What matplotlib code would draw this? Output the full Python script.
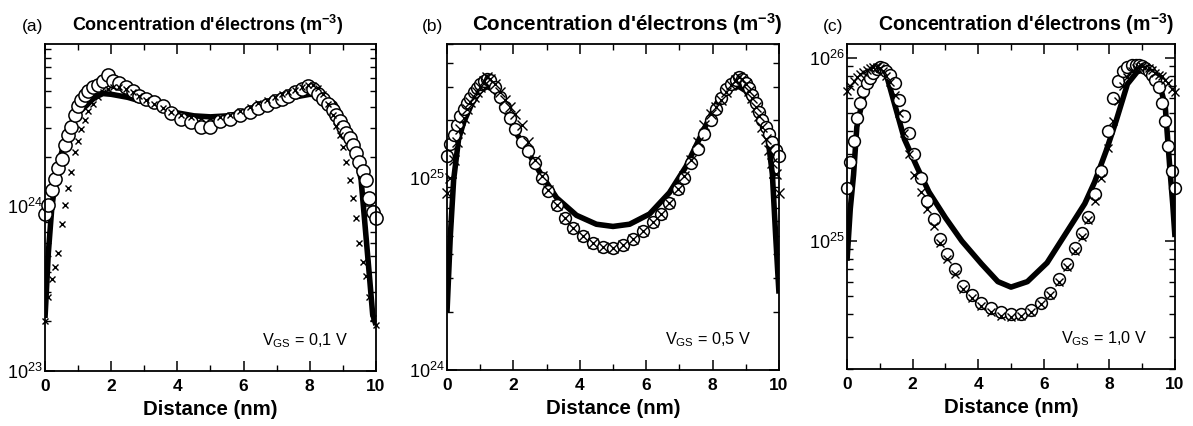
import matplotlib
matplotlib.use("Agg")
import matplotlib.pyplot as plt
import numpy as np
from matplotlib import font_manager
from matplotlib.ticker import FixedLocator, LogLocator, NullFormatter

# ---------------- data ----------------
# common marker abscissae (nm)
x_pts = [0.0, 0.1, 0.2, 0.3, 0.4, 0.5, 0.6, 0.7, 0.8, 0.9, 1.0, 1.1, 1.2, 1.3,
         1.45, 1.6, 1.75, 1.9, 2.05, 2.25, 2.45, 2.65, 2.85, 3.05, 3.3, 3.55,
         3.8, 4.1, 4.4, 4.7, 5.0, 5.3, 5.6, 5.9, 6.2, 6.45, 6.7, 6.95, 7.15,
         7.35, 7.55, 7.75, 7.95, 8.1, 8.25, 8.4, 8.55, 8.7, 8.8, 8.9, 9.0, 9.1,
         9.2, 9.3, 9.4, 9.5, 9.6, 9.7, 9.8, 9.9, 10.0]

# Panel (a): VGS = 0,1 V  (unit 1e24 m^-3)
a_unit = 1e24
a_circ = [0.90, 1.02, 1.25, 1.46, 1.70, 1.95, 2.35, 2.70, 3.05, 3.60, 4.10, 4.45, 4.75, 5.00,
          5.30, 5.50, 5.80, 6.30, 5.80, 5.60, 5.30, 5.00, 4.70, 4.50, 4.30, 4.05,
          3.70, 3.40, 3.25, 3.05, 3.05, 3.30, 3.40, 3.60, 3.75, 3.95, 4.15, 4.35, 4.50,
          4.70, 4.95, 5.15, 5.40, 5.20, 4.85, 4.50, 4.20, 3.85, 3.60, 3.30, 3.05, 2.80,
          2.60, 2.36, 2.10, 1.85, 1.65, 1.45, 1.12, 0.92, 0.85]
a_cross = [0.20, 0.28, 0.36, 0.43, 0.52, 0.78, 1.02, 1.30, 1.62, 2.15, 2.50, 2.95, 3.35, 3.80,
           4.20, 4.60, 4.95, 5.20, 5.30, 5.30, 5.15, 4.95, 4.70, 4.45, 4.20, 3.95,
           3.75, 3.60, 3.50, 3.45, 3.45, 3.50, 3.60, 3.80, 4.00, 4.25, 4.45, 4.65, 4.80,
           4.95, 5.10, 5.30, 5.50, 5.50, 5.25, 4.80, 4.20, 3.60, 3.10, 2.70, 2.30, 1.85,
           1.45, 1.12, 0.85, 0.60, 0.46, 0.38, 0.28, 0.21, 0.19]
a_line_x = [0.0, 0.1, 0.2, 0.3, 0.45, 0.6, 0.8, 1.0, 1.25, 1.5, 1.75, 2.0, 2.5, 3.0, 3.5,
            4.0, 4.5, 5.0, 5.5, 6.0, 6.5, 7.0, 7.5, 8.0, 8.25, 8.5, 8.75, 9.0, 9.2,
            9.4, 9.55, 9.7, 9.8, 9.9, 10.0]
a_line = [0.21, 0.52, 0.95, 1.40, 1.95, 2.50, 3.20, 3.70, 4.10, 4.60, 4.85, 4.80, 4.60, 4.30,
          4.00, 3.70, 3.55, 3.50, 3.55, 3.70, 4.00, 4.30, 4.60, 4.80, 4.75, 4.50, 4.20,
          3.30, 2.60, 2.10, 1.45, 0.65, 0.38, 0.22, 0.19]

# Panel (b): VGS = 0,5 V  (unit 1e25 m^-3)
b_unit = 1e25
b_circ = [1.30, 1.50, 1.68, 1.90, 2.10, 2.30, 2.45, 2.62, 2.80, 2.95, 3.10, 3.20, 3.28, 3.25,
          3.00, 2.65, 2.35, 2.05, 1.80, 1.55, 1.38, 1.20, 1.00, 0.86, 0.72, 0.62,
          0.55, 0.50, 0.46, 0.44, 0.43, 0.45, 0.48, 0.53, 0.59, 0.65, 0.74, 0.88, 1.00,
          1.20, 1.42, 1.70, 2.00, 2.30, 2.60, 2.90, 3.10, 3.25, 3.35, 3.30, 3.15, 2.95,
          2.70, 2.45, 2.20, 2.00, 1.85, 1.70, 1.55, 1.40, 1.30]
b_cross = [0.84, 1.00, 1.25, 1.55, 1.80, 2.05, 2.30, 2.50, 2.65, 2.80, 3.00, 3.20, 3.35, 3.30,
           3.10, 2.80, 2.55, 2.35, 2.15, 1.90, 1.55, 1.25, 1.02, 0.87, 0.72, 0.62,
           0.55, 0.50, 0.46, 0.44, 0.43, 0.45, 0.48, 0.53, 0.59, 0.65, 0.74, 0.88, 1.02,
           1.25, 1.55, 1.90, 2.15, 2.35, 2.55, 2.80, 3.05, 3.25, 3.35, 3.30, 3.10, 2.85,
           2.60, 2.35, 2.10, 1.85, 1.60, 1.40, 1.20, 1.05, 0.84]
b_line_x = [0.0, 0.1, 0.2, 0.35, 0.5, 0.75, 1.0, 1.2, 1.4, 1.6, 1.85, 2.1, 2.4, 2.8, 3.3,
            3.9, 4.5, 5.0, 5.5, 6.1, 6.7, 7.2, 7.6, 7.9, 8.15, 8.4, 8.6, 8.8, 9.0, 9.25,
            9.5, 9.65, 9.8, 9.9, 10.0]
b_line = [0.20, 0.50, 0.98, 1.60, 1.95, 2.45, 2.85, 3.00, 2.90, 2.60, 2.10, 1.70, 1.40, 1.07,
          0.79, 0.64, 0.575, 0.56, 0.575, 0.65, 0.84, 1.15, 1.60, 2.05, 2.50, 2.80, 2.95,
          3.00, 2.85, 2.40, 2.05, 1.70, 1.05, 0.50, 0.25]

# Panel (c): VGS = 1,0 V  (unit 1e25 m^-3)
c_unit = 1e25
c_circ = [1.95, 2.70, 3.50, 4.70, 5.70, 6.60, 7.30, 7.80, 8.30, 8.70, 8.90, 8.80, 8.50, 8.10,
          7.30, 5.90, 4.80, 3.90, 3.00, 2.20, 1.65, 1.32, 1.03, 0.85, 0.70, 0.57,
          0.51, 0.46, 0.43, 0.41, 0.40, 0.40, 0.42, 0.46, 0.52, 0.62, 0.75, 0.92, 1.10,
          1.35, 1.80, 2.40, 4.00, 6.00, 7.50, 8.50, 8.95, 9.10, 9.15, 9.10, 9.00, 8.80,
          8.50, 8.10, 7.60, 6.90, 5.70, 4.50, 3.30, 2.40, 1.95]
c_cross = [6.60, 7.00, 7.50, 7.90, 8.20, 8.40, 8.60, 8.80, 8.90, 8.90, 8.80, 8.50, 8.00, 7.40,
           6.30, 5.00, 3.90, 3.00, 2.30, 1.85, 1.50, 1.20, 0.97, 0.80, 0.66, 0.55,
           0.49, 0.44, 0.41, 0.39, 0.385, 0.39, 0.41, 0.45, 0.51, 0.60, 0.72, 0.88, 1.05,
           1.30, 1.65, 2.20, 3.20, 4.50, 5.80, 7.00, 7.90, 8.50, 8.80, 8.90, 9.00, 8.90,
           8.80, 8.60, 8.30, 8.10, 8.00, 7.60, 7.30, 6.80, 6.50]
c_line_x = [0.0, 0.1, 0.2, 0.3, 0.45, 0.6, 0.8, 1.0, 1.2, 1.45, 1.75, 2.15, 2.5, 3.0, 3.5,
            4.1, 4.6, 5.0, 5.5, 6.1, 6.7, 7.25, 7.55, 7.9, 8.2, 8.55, 8.85, 9.05, 9.3,
            9.5, 9.7, 9.85, 9.93, 10.0]
c_line = [0.78, 1.50, 2.30, 4.20, 5.60, 7.00, 8.30, 8.60, 8.10, 5.60, 3.60, 2.50, 1.85, 1.34,
          1.00, 0.75, 0.60, 0.56, 0.60, 0.76, 1.12, 1.60, 2.10, 3.10, 4.50, 7.20, 8.40,
          8.60, 8.20, 7.50, 5.50, 2.40, 1.60, 1.05]

x_ticks = [0, 2, 4, 6, 8, 10]
x_minor = [1, 3, 5, 7, 9]
panel_tags = ["(a)", "(b)", "(c)"]
vgs_labels = [r"V$_{\mathregular{GS}}$ = 0,1 V", r"V$_{\mathregular{GS}}$ = 0,5 V",
              r"V$_{\mathregular{GS}}$ = 1,0 V"]
title_text = r"Concentration d'électrons (m$^{\mathregular{-3}}$)"
xlabel_text = "Distance (nm)"
y_limits = [(1e23, 9.7e24), (1e24, 5.0e25), (2e24, 1.19e26)]
y_decades = [[1e23, 1e24], [1e24, 1e25], [1e25, 1e26]]
y_decade_labels = [[r"$\mathregular{10^{23}}$", r"$\mathregular{10^{24}}$"],
                   [r"$\mathregular{10^{24}}$", r"$\mathregular{10^{25}}$"],
                   [r"$\mathregular{10^{25}}$", r"$\mathregular{10^{26}}$"]]

# ---------------- style ----------------
avail = {f.name for f in font_manager.fontManager.ttflist}
SANS = "Liberation Sans" if "Liberation Sans" in avail else "DejaVu Sans"

plt.rcParams["font.family"] = [SANS, "DejaVu Sans"]
plt.rcParams["mathtext.fontset"] = "custom"
plt.rcParams["mathtext.rm"] = SANS
plt.rcParams["mathtext.it"] = SANS + ":italic"
plt.rcParams["mathtext.bf"] = SANS + ":bold"

W, H = 1193, 426
fig = plt.figure(figsize=(W / 100, H / 100), dpi=100)

# axes boxes in pixels: left, top, right, bottom
boxes = [(45, 44, 376, 371), (447, 44, 779, 370), (847, 44, 1175, 369)]
tag_x = [22, 422, 823]
title_x = [72, 472, 878]
title_size = [13.0, 14.9, 14.1]
circle_ms = [9.5, 8.5, 8.5]
cross_ms = [5.0, 7.0, 5.5]

data = [
    (a_unit, a_circ, a_cross, a_line_x, a_line),
    (b_unit, b_circ, b_cross, b_line_x, b_line),
    (c_unit, c_circ, c_cross, c_line_x, c_line),
]

for i, (l, t, r, b) in enumerate(boxes):
    ax = fig.add_axes([l / W, (H - b) / H, (r - l) / W, (b - t) / H])
    unit, circ, cross, lx, ly = data[i]
    ax.plot(lx, np.array(ly) * unit, color="black", lw=4.0, solid_capstyle="butt",
            solid_joinstyle="round", zorder=2)
    ax.plot(x_pts, np.array(circ) * unit, linestyle="none", marker="o",
            ms=circle_ms[i], mfc="white", mec="black", mew=1.1, zorder=3,
            clip_on=False)
    ax.plot(x_pts, np.array(cross) * unit, linestyle="none", marker="x",
            ms=cross_ms[i], mec="black", mew=1.0, zorder=4, clip_on=False)

    ax.set_yscale("log")
    ax.set_xlim(0, 10)
    ax.set_ylim(*y_limits[i])
    ax.xaxis.set_major_locator(FixedLocator(x_ticks))
    ax.xaxis.set_minor_locator(FixedLocator(x_minor))
    ax.set_xticklabels([str(v) for v in x_ticks], fontweight="bold", fontsize=12.5)
    ax.yaxis.set_major_locator(FixedLocator(y_decades[i]))
    ax.yaxis.set_minor_locator(LogLocator(base=10, subs=np.arange(2, 10), numticks=30))
    ax.yaxis.set_minor_formatter(NullFormatter())
    ax.set_yticklabels(y_decade_labels[i], fontsize=13)

    ax.tick_params(which="both", direction="in", top=True, right=True, colors="black")
    ax.tick_params(which="major", length=7, width=1.1)
    ax.tick_params(which="minor", length=4, width=1.0)
    ax.tick_params(axis="x", which="major", pad=6)
    ax.tick_params(axis="y", which="major", pad=1.5)
    for sp in ax.spines.values():
        sp.set_linewidth(1.3)
        sp.set_color("black")
        sp.set_zorder(5)

    # annotation
    ax.text(0.915, 0.08, vgs_labels[i], transform=ax.transAxes, ha="right",
            va="baseline", fontsize=11.7)

    # x label
    cx = (l + r) / 2 / W
    fig.text(cx, (H - (b + 44)) / H, xlabel_text, ha="center", va="baseline",
             fontsize=14.7, fontweight="bold")

    # titles
    fig.text(tag_x[i] / W, (H - 31) / H, panel_tags[i], ha="left", va="baseline",
             fontsize=12.5)
    fig.text(title_x[i] / W, (H - 31) / H, title_text, ha="left", va="baseline",
             fontsize=title_size[i], fontweight="bold")

fig.savefig("out.png", dpi=100)
